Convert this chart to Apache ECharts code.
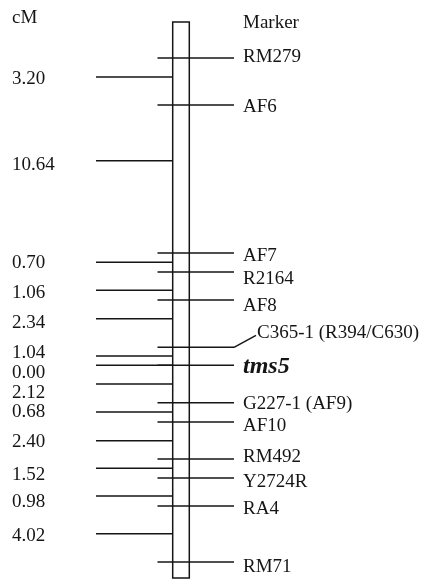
<!DOCTYPE html>
<html><head><meta charset="utf-8">
<script src="https://cdn.jsdelivr.net/npm/echarts@6/dist/echarts.min.js"></script>
<style>html,body{margin:0;padding:0;background:#fff}#c{width:425px;height:580px}</style>
</head><body><div id="c"></div>
<script>
// ---- data (map drawn top-to-bottom, positions in drawing units 0..100) ----
const markerNames = ['RM279','AF6','AF7','R2164','AF8','C365-1 (R394/C630)','tms5','G227-1 (AF9)','AF10','RM492','Y2724R','RA4','RM71'];
const markerPositions = [6.46,14.90,41.47,44.88,49.91,58.40,61.63,68.35,71.81,78.46,81.87,86.89,96.95];
const intervalLabels = ['3.20','10.64','0.70','1.06','2.34','1.04','0.00','2.12','0.68','2.40','1.52','0.98','4.02'];
const intervalPositions = [9.87,24.90,43.14,48.17,53.27,59.96,61.63,64.99,70.02,75.17,80.13,85.10,91.87];
const chromosomeSpan = [0, 99.8];
const headerLeft = 'cM';
const headerRight = 'Marker';
const geneName = 'tms5';
const connectedMarker = 'C365-1 (R394/C630)';

// ---- layout / style ----
const L = {
  barLeft: 172.7, barRight: 189.3,
  markerX0: 157.5, markerX1: 234,
  intX0: 96, intX1: 172.7,
  markerLabelX: 243, intLabelX: 12,
  connX1: 256, connLabelX: 257, connDy: -14
};
const markerLabelDy = [-1,2,3,7,6,-14,2,1,4,-2,4,3,5];
const intervalLabelDy = [2,4,1,3,4,-3,8,9,0,1,7,6,2];
const FONT = '19px "Liberation Serif", "Times New Roman", serif';
const GENE_FONT = 'italic bold 24px "Liberation Serif", "Times New Roman", serif';
const INK = '#151515';
const LW = 1.5;

const chart = echarts.init(document.getElementById('c'), null, {renderer: 'canvas'});

function renderBar(params, api) {
  const a = api.coord([L.barLeft, api.value(1)]);
  const b = api.coord([L.barRight, api.value(2)]);
  return {
    type: 'rect', z2: 0,
    shape: {x: a[0], y: a[1], width: b[0] - a[0], height: b[1] - a[1]},
    style: {fill: '#fff', stroke: INK, lineWidth: LW}
  };
}

function renderMarker(params, api) {
  const i = params.dataIndex;
  const pos = api.value(1);
  const p0 = api.coord([L.markerX0, pos]);
  const p1 = api.coord([L.markerX1, pos]);
  const name = markerNames[i];
  const children = [{
    type: 'line', z2: 5,
    shape: {x1: p0[0], y1: p0[1], x2: p1[0], y2: p1[1]},
    style: {stroke: INK, lineWidth: LW}
  }];
  if (name === connectedMarker) {
    const q = api.coord([L.connX1, pos]);
    children.push({
      type: 'line', z2: 5,
      shape: {x1: p1[0], y1: p1[1], x2: q[0], y2: q[1] + L.connDy + 2},
      style: {stroke: INK, lineWidth: LW}
    });
    const lp = api.coord([L.connLabelX, pos]);
    children.push({
      type: 'text', z2: 6,
      style: {text: name, x: lp[0], y: lp[1] + markerLabelDy[i], font: FONT, fill: INK, align: 'left', verticalAlign: 'middle'}
    });
  } else {
    const lp = api.coord([L.markerLabelX, pos]);
    children.push({
      type: 'text', z2: 6,
      style: {text: name, x: lp[0], y: lp[1] + markerLabelDy[i],
        font: name === geneName ? GENE_FONT : FONT, fill: INK, align: 'left', verticalAlign: 'middle'}
    });
  }
  return {type: 'group', children};
}

function renderInterval(params, api) {
  const i = params.dataIndex;
  const pos = api.value(1);
  const p0 = api.coord([L.intX0, pos]);
  const p1 = api.coord([L.intX1, pos]);
  const lp = api.coord([L.intLabelX, pos]);
  return {type: 'group', children: [
    {type: 'line', z2: 5, shape: {x1: p0[0], y1: p0[1], x2: p1[0], y2: p1[1]}, style: {stroke: INK, lineWidth: LW}},
    {type: 'text', z2: 6, style: {text: intervalLabels[i], x: lp[0], y: lp[1] + intervalLabelDy[i], font: FONT, fill: INK, align: 'left', verticalAlign: 'middle'}}
  ]};
}

chart.setOption({
  animation: false,
  backgroundColor: '#fff',
  grid: {left: 0, right: 0, top: 22, height: 557},
  xAxis: {type: 'value', min: 0, max: 425, show: false},
  yAxis: {type: 'value', min: 0, max: 100, inverse: true, show: false},
  graphic: [
    {type: 'text', left: 12, top: 9, style: {text: headerLeft, font: FONT, fill: INK}},
    {type: 'text', left: 243, top: 14, style: {text: headerRight, font: FONT, fill: INK}}
  ],
  series: [
    {type: 'custom', renderItem: renderBar, data: [[0, chromosomeSpan[0], chromosomeSpan[1]]], encode: {x: 0, y: [1, 2]}, z: 1, clip: false},
    {type: 'custom', renderItem: renderInterval, data: intervalPositions.map(p => [0, p]), encode: {x: 0, y: 1}, z: 2, clip: false},
    {type: 'custom', renderItem: renderMarker, data: markerPositions.map(p => [0, p]), encode: {x: 0, y: 1}, z: 3, clip: false}
  ]
});
</script>
</body></html>
